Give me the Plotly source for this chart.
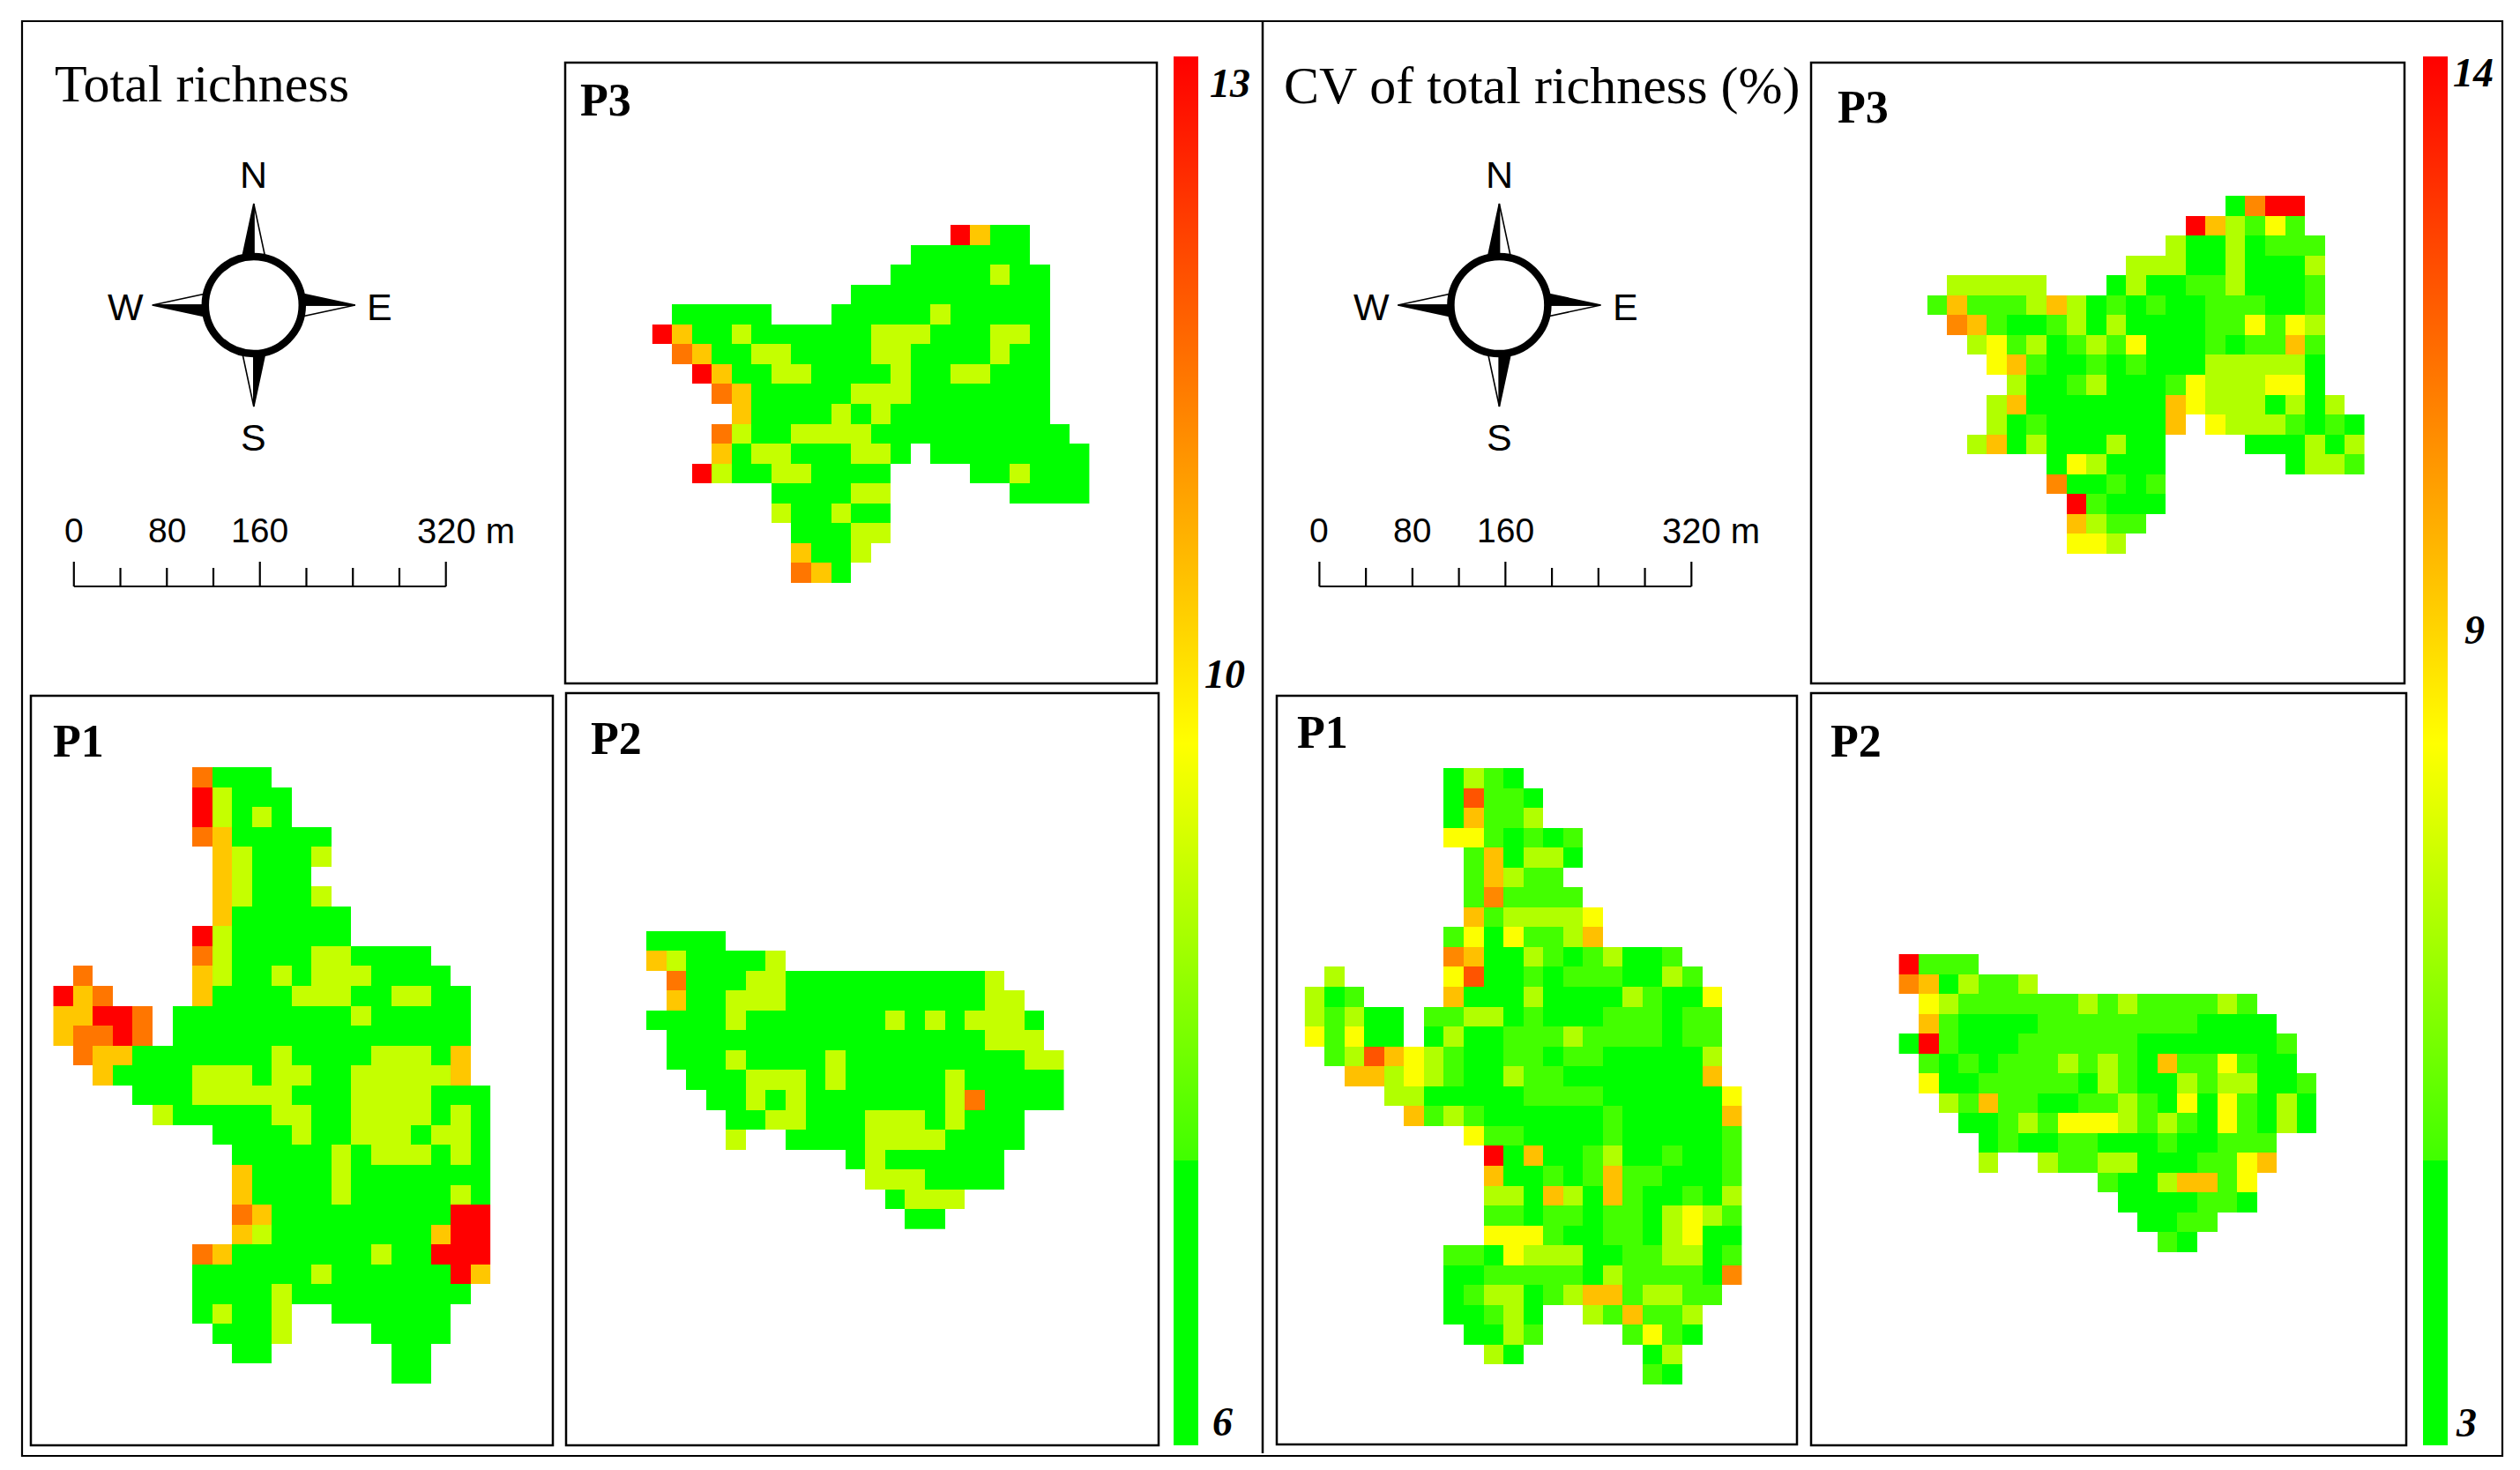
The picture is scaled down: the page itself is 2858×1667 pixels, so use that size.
import plotly.graph_objects as go

W = 2858
H = 1667
CELL = 22.55

# classes: G Y O A R for richness, G L Y Q O A D R for CV
richness_classes = {"G": 6, "Y": 8.9, "O": 10.3, "A": 11.4, "R": 13}
cv_classes = {"G": 3, "L": 5.3, "Y": 7.2, "Q": 8.5, "O": 9.9, "A": 11.1, "D": 12.2, "R": 14}

richness_p3 = [
    "...............ROGG...",
    ".............GGGGGG...",
    "............GGGGGYGG..",
    "..........GGGGGGGGGG..",
    ".GGGGG...GGGGGYGGGGG..",
    "ROGGYGGGGGGYYYGGGYYG..",
    ".AOGGYYGGGGYYGGGGYGG..",
    "..ROGGYYGGGGYGGYYGGG..",
    "...AOGGGGGYYYGGGGGGG..",
    "....OGGGGYGYGGGGGGGG..",
    "...AYGGYYYYGGGGGGGGGG.",
    "...OGYYGGGYYG.GGGGGGGG",
    "..RYGGYYGGGG....GGYGGG",
    "......GGGGYY......GGGG",
    "......YGGYGG..........",
    ".......GGGYY..........",
    ".......OGGY...........",
    ".......AOG............",
]

richness_p1 = [
    ".......AGGG...........",
    ".......RYGGG..........",
    ".......RYGYG..........",
    ".......AOGGGGG........",
    "........OYGGGY........",
    "........OYGGG.........",
    "........OYGGGY........",
    "........OGGGGGG.......",
    ".......RYGGGGGG.......",
    ".......AYGGGGYYGGGG...",
    ".A.....OYGGYGYYYGGGG..",
    "ROA....OGGGGYYYGGYYGG.",
    "OORRA.GGGGGGGGGYGGGGG.",
    "OAARA.GGGGGGGGGGGGGGG.",
    ".AOOGGGGGGGYGGGGYYYGO.",
    "..OGGGGYYYGYYGGYYYYYO.",
    "....GGGYYYYYGGGYYYYGGG",
    ".....YGGGGGYYGGYYYYGYG",
    "........GGGGYGGYYYGYYG",
    ".........GGGGGYGYYYGYG",
    ".........OGGGGYGGGGGGG",
    ".........OGGGGYGGGGGYG",
    ".........AOGGGGGGGGGRR",
    ".........OYGGGGGGGGORR",
    ".......AOGGGGGGGYGGRRR",
    ".......GGGGGGYGGGGGGRO",
    ".......GGGGYGGGGGGGGG.",
    ".......GYGGY..GGGGGG..",
    "........GGGY....GGGG..",
    ".........GG......GG...",
    ".................GG...",
]

richness_p2 = [
    "GGGG.................",
    "OYGGGGY..............",
    ".AGGGYYGGGGGGGGGGY...",
    ".OGGYYYGGGGGGGGGGYY..",
    "GGGGYGGGGGGGYGYGYYYG.",
    ".GGGGGGGGGGGGGGGGYYY.",
    ".GGGYGGGGYGGGGGGGGGYY",
    "..GGGYYYGYGGGGGYGGGGG",
    "...GGYGYGGGGGGGYAGGGG",
    "....GGYYGGGYYYGYGGG..",
    "....Y..GGGGYYYYGGGG..",
    "..........GYGGGGGG...",
    "...........YYYGGGG...",
    "............GYYY.....",
    ".............GG......",
]

cv_p3 = [
    "...............GARR...",
    ".............ROYLQL...",
    "............YGGYGLLL..",
    "..........YYYGGYGGGY..",
    ".YYYYY...GYGGLLYGGGL..",
    "LOLLLYOYGLGLGGLLLGGL..",
    ".AOLGGLYGYGGGGLLQLQY..",
    "..YQLYGLYLQGGGLGLLOL..",
    "...QOLGGLGLGGGYYYYYG..",
    "....YGGLYGGGLQYYYQQG..",
    "...YOGGGGGGGOQYYYGYGY.",
    "...YGLGGGGGGO.QYYYLGLG",
    "..YOGYGGGYGG....GGGYGY",
    "......GQYGGG......GYYL",
    "......AGGLGL..........",
    ".......RLGGG..........",
    ".......OYLL...........",
    ".......QQY............",
]

cv_p1 = [
    ".......GYLG...........",
    ".......GDLLG..........",
    ".......GOLLY..........",
    ".......QQLGLGL........",
    "........LOGYYG........",
    "........LOYLL.........",
    "........LALLLL........",
    "........OLYYYYQ.......",
    ".......LQGQLLYO.......",
    ".......AOGGYLGLYGGL...",
    ".Y.....QDGGLGLLLGGYL..",
    "YGL....OGGGYGGGGYLGGQ.",
    "YLYGG.LLYYGLGGGLLLGLL.",
    "QLQGG.GYGGLLLYLLLLGLL.",
    ".LYDOQYLGGLLGLLGGGGGY.",
    "..OOYQYLGGYLLGGGGGGGO.",
    "....YYGGGGGLLLLGGGGGGQ",
    ".....OLYLGGGGGGLGGGGGO",
    "........QLLGGGGLGGGGGL",
    ".........RGOGGLYGGLGGL",
    ".........OGGLGLOLLGGGL",
    ".........YYGOYGOLGGLGY",
    ".........LLGLLGLLGYQYL",
    ".........QQQLGGLLGYQGG",
    ".......LLGQYYYGGLLYYGL",
    ".......GGLLLLLGYLLLLGA",
    ".......GLYYGLYOOLYYLL.",
    ".......GGLYG..YLOLLY..",
    "........GGYL....LQLG..",
    ".........YG......GY...",
    ".................LG...",
]

cv_p2 = [
    "RLLL.................",
    "AOGYLLY..............",
    ".QYLLLLLLYLYLLLLYL...",
    ".OLGGGGLLLLLLLLGGGG..",
    "GRLGGGLLLLLLGGGGGGGL.",
    ".LGLGLLLYLYLGOLLQLGG.",
    ".QGGLLLLLGYLGGYLYYGGL",
    "..YLOLLGGLLYLGQGQLGYG",
    "...GGLYLQQQYLYLGQLGYG",
    "....GLGGLLGGGLGGLLL..",
    "....Y..YLLYYGGGLLQO..",
    "..........LGGYOOLQ...",
    "...........GGGGLLG...",
    "............GGLL.....",
    ".............LG......",
]

scale_labels_left = ["0", "80", "160"]
scale_label_end = "320 m"
richness_ticks = ["13", "10", "6"]
cv_ticks = ["14", "9", "3"]

green_yellow_red = [
    [0, "#00ff00"], [0.205, "#00ff00"], [0.2051, "#40ff00"],
    [0.505, "#ffff00"], [1, "#ff0000"],
]


def px(x):
    return x / W


def py(y):
    return 1 - y / H


def to_values(rows, classes):
    return [[classes.get(c) for c in row] for row in rows]


fig = go.Figure()
axis_no = 0


def add_map(rows, classes, left, top, coloraxis):
    # one small axis pair per raster, sized so that cells stay square
    global axis_no
    axis_no += 1
    n_rows = len(rows)
    n_cols = len(rows[0])
    suffix = "" if axis_no == 1 else str(axis_no)
    fig.add_trace(go.Heatmap(
        z=to_values(rows, classes), coloraxis=coloraxis,
        xaxis="x" + suffix, yaxis="y" + suffix,
        hoverongaps=False, xgap=0, ygap=0,
    ))
    fig.layout["xaxis" + suffix] = dict(
        domain=[px(left), px(left + n_cols * CELL)], range=[-0.5, n_cols - 0.5],
        visible=False, fixedrange=True, anchor="y" + suffix,
    )
    fig.layout["yaxis" + suffix] = dict(
        domain=[py(top + n_rows * CELL), py(top)], range=[n_rows - 0.5, -0.5],
        visible=False, fixedrange=True, anchor="x" + suffix,
    )


add_map(richness_p3, richness_classes, 739.6, 255, "coloraxis")
add_map(richness_p1, richness_classes, 60.3, 870, "coloraxis")
add_map(richness_p2, richness_classes, 733, 1055.7, "coloraxis")
add_map(cv_p3, cv_classes, 2185.7, 222, "coloraxis2")
add_map(cv_p1, cv_classes, 1479.6, 871, "coloraxis2")
add_map(cv_p2, cv_classes, 2153.4, 1082, "coloraxis2")

shapes = []
annotations = []


def box(x0, y0, x1, y1, width=2.5):
    shapes.append(dict(type="rect", xref="paper", yref="paper",
                       x0=px(x0), x1=px(x1), y0=py(y0), y1=py(y1),
                       line=dict(color="black", width=width)))


def line(x0, y0, x1, y1, width=2.2):
    shapes.append(dict(type="line", xref="paper", yref="paper",
                       x0=px(x0), x1=px(x1), y0=py(y0), y1=py(y1),
                       line=dict(color="black", width=width)))


def poly(points, fill, width=1.6):
    path = "M " + " L ".join(f"{px(x):.5f} {py(y):.5f}" for x, y in points) + " Z"
    shapes.append(dict(type="path", xref="paper", yref="paper", path=path,
                       fillcolor=fill, line=dict(color="black", width=width)))


def label(text, x, y, size, anchor="center", family="Liberation Sans", bold=False, italic=False):
    if bold:
        text = "<b>" + text + "</b>"
    if italic:
        text = "<i>" + text + "</i>"
    annotations.append(dict(text=text, x=px(x), y=py(y), xref="paper", yref="paper",
                            xanchor=anchor, yanchor="middle", showarrow=False,
                            font=dict(size=size, family=family, color="black")))


def compass(cx, cy):
    half = 13.5
    reach = 115
    root = 52
    arms = [
        # tip, black side, white side
        ((cx, cy - reach), (cx - half, cy - root), (cx + half, cy - root), (cx, cy - root)),
        ((cx + reach, cy), (cx + root, cy - half), (cx + root, cy + half), (cx + root, cy)),
        ((cx, cy + reach), (cx + half, cy + root), (cx - half, cy + root), (cx, cy + root)),
        ((cx - reach, cy), (cx - root, cy + half), (cx - root, cy - half), (cx - root, cy)),
    ]
    for tip, black_side, white_side, mid in arms:
        poly([tip, white_side, mid], "white")
        poly([tip, black_side, mid], "black")
    shapes.append(dict(type="circle", xref="paper", yref="paper",
                       x0=px(cx - 55), x1=px(cx + 55), y0=py(cy + 55), y1=py(cy - 55),
                       fillcolor="white", line=dict(color="black", width=8.5)))
    label("N", cx, cy - 148, 43)
    label("S", cx, cy + 150, 43)
    label("W", cx - 145, cy + 2, 43)
    label("E", cx + 143, cy + 2, 43)


def scale_bar(x0):
    step = (505.7 - 83.8) / 8
    y = 665
    line(x0, y, x0 + 8 * step, y)
    for i in range(9):
        top = 637 if i in (0, 4, 8) else 644
        line(x0 + i * step, y, x0 + i * step, top)
    for text, i in zip(scale_labels_left, (0, 2, 4)):
        label(text, x0 + i * step, 602, 39)
    label(scale_label_end, x0 + 387, 602, 40, anchor="left")


# outer frame and the divider
box(25, 24, 2838, 1651, 2.2)
line(1432, 24, 1432, 1648, 2.5)

# panel frames
box(641, 71, 1312, 775)
box(35, 789, 627, 1639)
box(642, 786, 1314, 1639)
box(2054, 71, 2727, 775)
box(1448, 789, 2038, 1638)
box(2054, 786, 2729, 1639)

OFFSET = 1412.6
compass(287.8, 346)
compass(287.8 + OFFSET, 346)
scale_bar(83.8)
scale_bar(83.8 + OFFSET)

SERIF = "Liberation Serif"
label("Total richness", 60, 95, 60, anchor="left", family=SERIF)
label("CV of total richness (%)", 1454, 97, 60, anchor="left", family=SERIF)
label("P3", 656, 113, 52, anchor="left", family=SERIF, bold=True)
label("P1", 58, 840, 52, anchor="left", family=SERIF, bold=True)
label("P2", 668, 837, 52, anchor="left", family=SERIF, bold=True)
label("P3", 2082, 121, 52, anchor="left", family=SERIF, bold=True)
label("P1", 1469, 830, 52, anchor="left", family=SERIF, bold=True)
label("P2", 2074, 840, 52, anchor="left", family=SERIF, bold=True)

for text, x, y in zip(richness_ticks, (1395, 1389, 1386), (94, 765, 1612)):
    label(text, x, y, 46, family=SERIF, bold=True, italic=True)
for text, x, y in zip(cv_ticks, (2805, 2806, 2797), (83, 714, 1613)):
    label(text, x, y, 46, family=SERIF, bold=True, italic=True)


def colorbar(left):
    return dict(
        x=px(left), xanchor="left", xpad=0,
        y=py(1639), yanchor="bottom", ypad=0,
        len=1575, lenmode="pixels", thickness=28, thicknessmode="pixels",
        outlinewidth=0, showticklabels=False, ticks="",
    )


fig.update_layout(
    width=W, height=H,
    margin=dict(l=0, r=0, t=0, b=0, autoexpand=False),
    paper_bgcolor="white", plot_bgcolor="rgba(0,0,0,0)",
    shapes=shapes, annotations=annotations, showlegend=False,
    coloraxis=dict(colorscale=green_yellow_red, cmin=6, cmax=13, colorbar=colorbar(1331)),
    coloraxis2=dict(colorscale=green_yellow_red, cmin=3, cmax=14, colorbar=colorbar(2748)),
)

fig.write_html("out.html", config={"displayModeBar": False},
               post_script="document.body.style.margin='0';")
